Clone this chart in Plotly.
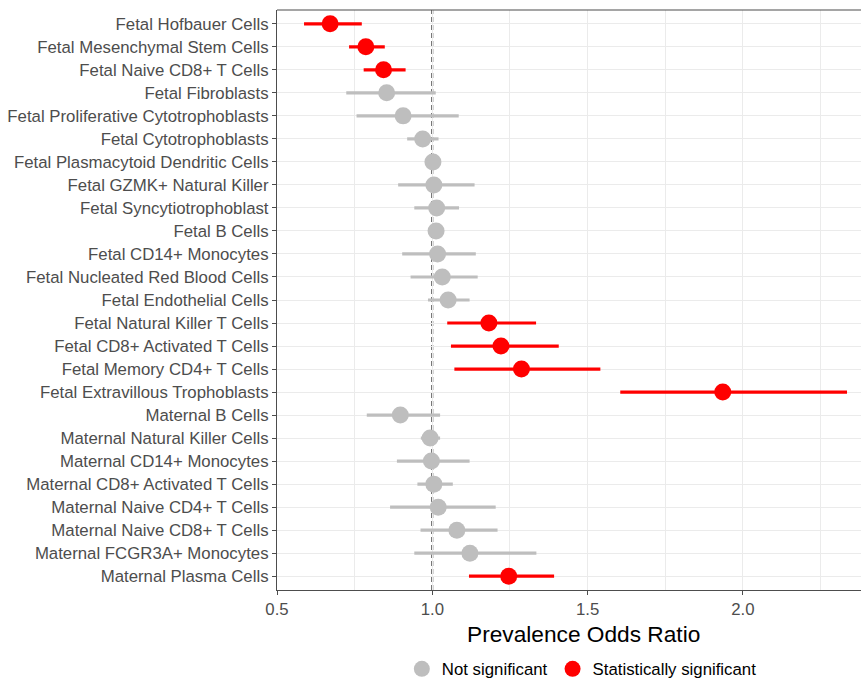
import plotly.graph_objects as go

cells = [
    "Fetal Hofbauer Cells", "Fetal Mesenchymal Stem Cells", "Fetal Naive CD8+ T Cells",
    "Fetal Fibroblasts", "Fetal Proliferative Cytotrophoblasts", "Fetal Cytotrophoblasts",
    "Fetal Plasmacytoid Dendritic Cells", "Fetal GZMK+ Natural Killer", "Fetal Syncytiotrophoblast",
    "Fetal B Cells", "Fetal CD14+ Monocytes", "Fetal Nucleated Red Blood Cells",
    "Fetal Endothelial Cells", "Fetal Natural Killer T Cells", "Fetal CD8+ Activated T Cells",
    "Fetal Memory CD4+ T Cells", "Fetal Extravillous Trophoblasts", "Maternal B Cells",
    "Maternal Natural Killer Cells", "Maternal CD14+ Monocytes", "Maternal CD8+ Activated T Cells",
    "Maternal Naive CD4+ T Cells", "Maternal Naive CD8+ T Cells", "Maternal FCGR3A+ Monocytes",
    "Maternal Plasma Cells",
]
odds_ratio = [0.671, 0.786, 0.843, 0.853, 0.906, 0.969, 1.002, 1.005, 1.014, 1.012,
              1.017, 1.032, 1.051, 1.182, 1.221, 1.287, 1.935, 0.897, 0.993, 0.997,
              1.005, 1.019, 1.079, 1.121, 1.246]
ci_lower = [0.587, 0.732, 0.779, 0.723, 0.756, 0.919, 0.985, 0.890, 0.942, 0.995,
            0.903, 0.930, 0.986, 1.048, 1.060, 1.071, 1.605, 0.789, 0.963, 0.886,
            0.952, 0.864, 0.962, 0.942, 1.118]
ci_upper = [0.773, 0.847, 0.914, 1.011, 1.085, 1.020, 1.020, 1.136, 1.086, 1.030,
            1.140, 1.146, 1.120, 1.334, 1.407, 1.541, 2.335, 1.025, 1.025, 1.120,
            1.066, 1.204, 1.210, 1.335, 1.392]
significant = [True, True, True, False, False, False, False, False, False, False,
               False, False, False, True, True, True, True, False, False, False,
               False, False, False, False, True]

groups = [("Not significant", False, "#BEBEBE"), ("Statistically significant", True, "#FF0000")]

FONT = "Liberation Sans, Arial, sans-serif"
fig = go.Figure()
for name, flag, color in groups:
    idx = [i for i, s in enumerate(significant) if s == flag]
    xs = [odds_ratio[i] for i in idx]
    ys = [cells[i] for i in idx]
    plus = [ci_upper[i] - odds_ratio[i] for i in idx]
    minus = [odds_ratio[i] - ci_lower[i] for i in idx]
    fig.add_trace(go.Scatter(
        x=xs, y=ys, mode="markers", name=name,
        marker=dict(color=color, size=17, line=dict(width=0)),
        error_x=dict(type="data", symmetric=False, array=plus, arrayminus=minus,
                     color=color, thickness=3.2, width=0),
    ))

fig.add_shape(type="line", xref="x", yref="paper", x0=1, x1=1, y0=0, y1=1, opacity=1,
              line=dict(color="#000000", width=1.7, dash="5px,3px"), layer="between")
fig.add_shape(type="line", xref="paper", yref="paper", x0=0, x1=1, y0=1, y1=1,
              line=dict(color="#4D4D4D", width=1.2))

fig.add_annotation(text="Prevalence Odds Ratio", xref="paper", yref="paper",
                   x=0.524, y=-0.075, xanchor="center", yanchor="middle", showarrow=False,
                   font=dict(family=FONT, size=22.7, color="black"))

fig.update_layout(
    width=861, height=678,
    margin=dict(l=277, r=0, t=10, b=88, autoexpand=False),
    paper_bgcolor="white", plot_bgcolor="white",
    font=dict(family=FONT, size=16.8, color="#4D4D4D"),
    showlegend=True,
    legend=dict(orientation="h", x=0.522, xanchor="center", y=-0.136, yanchor="middle",
                font=dict(family=FONT, size=16.8, color="black"), itemsizing="trace",
                traceorder="normal"),
)
fig.update_xaxes(
    range=[0.5, 2.38], tickvals=[0.5, 1.0, 1.5, 2.0], ticktext=["0.5", "1.0", "1.5", "2.0"],
    showgrid=True, gridcolor="#EBEBEB", gridwidth=1,
    minor=dict(tickvals=[0.75, 1.25, 1.75, 2.25], showgrid=True, gridcolor="#EBEBEB", gridwidth=1),
    showline=True, linecolor="#4D4D4D", linewidth=1.2,
    ticks="outside", ticklen=4, tickcolor="#4D4D4D", tickwidth=1.2,
    tickfont=dict(family=FONT, size=16.8, color="#4D4D4D"),
    zeroline=False,
)
fig.update_yaxes(
    type="category", categoryorder="array", categoryarray=cells[::-1],
    range=[-0.6, len(cells) - 0.4],
    showgrid=True, gridcolor="#EBEBEB", gridwidth=1,
    showline=True, linecolor="#4D4D4D", linewidth=1.2,
    ticks="outside", ticklen=4, tickcolor="#4D4D4D", tickwidth=1.2,
    tickfont=dict(family=FONT, size=16.8, color="#4D4D4D"),
    zeroline=False,
)

fig.write_html("out.html")
